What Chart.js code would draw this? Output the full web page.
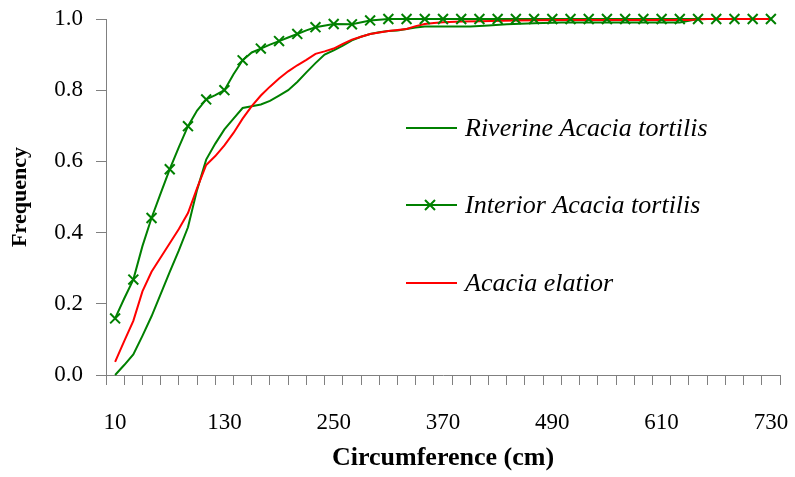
<!doctype html>
<html>

<head>
	<title>Cumulative circumference frequency</title>
	<script src="https://cdn.jsdelivr.net/npm/chart.js@4/dist/chart.umd.min.js"></script>
	<style>
	body {
		margin: 0;
		background: #fff;
	}
	</style>
</head>

<body>
	<div style="width:795px;height:477px">
		<canvas id="canvas"></canvas>
	</div>
	<script>
		// circumference (cm) and cumulative frequency
		const riverineX = [10, 20, 30, 40, 50, 60, 70, 80, 90, 100, 110, 120, 130, 140, 150, 160, 170, 180, 190, 200,
			210, 220, 230, 240, 250, 260, 270, 280, 290, 300, 310, 320, 330, 340, 350, 370, 400, 420, 440, 470, 500,
			550, 600, 630, 640, 650, 690, 730];
		const riverineY = [0.0, 0.028, 0.058, 0.11, 0.165, 0.227, 0.29, 0.35, 0.415, 0.52, 0.605, 0.65, 0.69, 0.72, 0.75,
			0.755, 0.76, 0.77, 0.785, 0.80, 0.823, 0.85, 0.876, 0.90, 0.912, 0.925, 0.94, 0.95, 0.958, 0.963, 0.966,
			0.968, 0.972, 0.976, 0.979, 0.979, 0.979, 0.982, 0.985, 0.988, 0.99, 0.99, 0.99, 0.99, 0.995, 1.0, 1.0, 1.0];

		const interiorX = [10, 20, 30, 40, 50, 60, 70, 80, 90, 100, 110, 120, 130, 140, 150, 160, 170, 180, 190, 200,
			210, 220, 230, 250, 270, 290, 310, 330, 350, 370, 390, 410, 430, 450, 470, 490, 510, 530, 550, 570, 590,
			610, 630, 650, 670, 690, 710, 730];
		const interiorY = [0.159, 0.215, 0.268, 0.362, 0.441, 0.51, 0.578, 0.64, 0.699, 0.743, 0.774, 0.786, 0.80, 0.845,
			0.884, 0.906, 0.917, 0.928, 0.938, 0.948, 0.958, 0.968, 0.977, 0.986, 0.985, 0.996, 1.0, 1.0, 1.0, 1.0,
			1.0, 1.0, 1.0, 1.0, 1.0, 1.0, 1.0, 1.0, 1.0, 1.0, 1.0, 1.0, 1.0, 1.0, 1.0, 1.0, 1.0, 1.0];

		const elatiorX = [10, 20, 30, 40, 50, 60, 70, 80, 90, 100, 110, 120, 130, 140, 150, 160, 170, 180, 190, 200,
			210, 220, 230, 240, 250, 260, 270, 280, 290, 300, 310, 320, 330, 340, 350, 360, 370, 390, 410, 450, 500,
			640, 660, 730];
		const elatiorY = [0.037, 0.095, 0.152, 0.235, 0.29, 0.33, 0.37, 0.41, 0.455, 0.525, 0.59, 0.615, 0.645, 0.68,
			0.72, 0.755, 0.785, 0.81, 0.833, 0.853, 0.87, 0.885, 0.902, 0.909, 0.917, 0.93, 0.942, 0.95, 0.958, 0.962,
			0.966, 0.969, 0.972, 0.98, 0.986, 0.989, 0.991, 0.993, 0.994, 0.996, 0.997, 0.997, 1.0, 1.0];

		const seriesNames = ['Riverine Acacia tortilis', 'Interior Acacia tortilis', 'Acacia elatior'];
		const xLabels = [10, 130, 250, 370, 490, 610, 730];
		const yLabels = [0.0, 0.2, 0.4, 0.6, 0.8, 1.0];

		const GREEN = '#008000';
		const RED = '#ff0000';
		const SERIF = '"Liberation Serif", "Times New Roman", serif';

		const toPoints = (xs, ys) => xs.map((x, i) => ({ x: x, y: ys[i] }));

		// legend drawn inside the plot, right side
		const insideLegend = {
			id: 'insideLegend',
			afterDraw(chart) {
				const ctx = chart.ctx;
				const rows = [
					{ name: seriesNames[0], color: GREEN, marker: false, y: 128 },
					{ name: seriesNames[1], color: GREEN, marker: true, y: 205 },
					{ name: seriesNames[2], color: RED, marker: false, y: 283 }
				];
				ctx.save();
				rows.forEach((r) => {
					ctx.strokeStyle = r.color;
					ctx.lineWidth = 2;
					ctx.beginPath();
					ctx.moveTo(406, r.y);
					ctx.lineTo(457, r.y);
					ctx.stroke();
					if (r.marker) {
						ctx.beginPath();
						ctx.moveTo(425, r.y - 5);
						ctx.lineTo(435, r.y + 5);
						ctx.moveTo(435, r.y - 5);
						ctx.lineTo(425, r.y + 5);
						ctx.stroke();
					}
					ctx.fillStyle = '#000';
					ctx.font = 'italic 26px ' + SERIF;
					ctx.textBaseline = 'middle';
					ctx.fillText(r.name, 465, r.y + 1);
				});
				ctx.restore();
			}
		};

		window.onload = function() {
			const ctx = document.getElementById('canvas').getContext('2d');
			window.myChart = new Chart(ctx, {
				type: 'line',
				data: {
					datasets: [{
						label: seriesNames[1] + ' markers',
						data: toPoints(interiorX, interiorY),
						showLine: false,
						pointStyle: 'crossRot',
						pointRadius: (c) => ((c.raw.x - 10) % 20 === 0 ? 7 : 0),
						pointBorderWidth: 2,
						pointBorderColor: GREEN,
						borderColor: GREEN,
						clip: false
					}, {
						label: seriesNames[2],
						data: toPoints(elatiorX, elatiorY),
						borderColor: RED,
						borderWidth: 2,
						pointRadius: 0,
						clip: false
					}, {
						label: seriesNames[0],
						data: toPoints(riverineX, riverineY),
						borderColor: GREEN,
						borderWidth: 2,
						pointRadius: 0,
						clip: false
					}, {
						label: seriesNames[1],
						data: toPoints(interiorX, interiorY),
						borderColor: GREEN,
						borderWidth: 2,
						pointRadius: 0,
						clip: false
					}]
				},
				options: {
					responsive: true,
					maintainAspectRatio: false,
					animation: false,
					events: [],
					layout: {
						padding: { top: 19, right: 15, left: 0, bottom: 0 }
					},
					plugins: {
						legend: { display: false },
						tooltip: { enabled: false }
					},
					scales: {
						x: {
							type: 'linear',
							min: 0,
							max: 740,
							afterFit: (s) => {
								s.height = 102;
								s.paddingLeft = 0;
								s.paddingRight = 0;
							},
							afterBuildTicks: (s) => {
								const t = [];
								for (let v = 0; v <= 740; v += 10) t.push({ value: v });
								s.ticks = t;
							},
							border: { display: true, color: '#808080', width: 1 },
							grid: {
								drawOnChartArea: false,
								drawTicks: true,
								tickLength: 10,
								tickColor: (c) => (c.tick && c.tick.value % 20 === 0 ? '#808080' : 'rgba(0,0,0,0)')
							},
							ticks: {
								autoSkip: false,
								maxRotation: 0,
								minRotation: 0,
								padding: 24,
								color: '#000',
								font: { family: SERIF, size: 23 },
								callback: (v) => (xLabels.includes(v) ? String(v) : '')
							},
							title: {
								display: true,
								text: 'Circumference (cm)',
								color: '#000',
								font: { family: SERIF, size: 26, weight: 'bold' },
								padding: { top: 3, bottom: 3 }
							}
						},
						y: {
							min: 0,
							max: 1,
							afterFit: (s) => {
								s.width = 106;
								s.paddingTop = 0;
								s.paddingBottom = 0;
							},
							afterBuildTicks: (s) => {
								s.ticks = yLabels.map((v) => ({ value: v }));
							},
							border: { display: true, color: '#808080', width: 1 },
							grid: {
								drawOnChartArea: false,
								drawTicks: true,
								tickLength: 10,
								tickColor: '#808080'
							},
							ticks: {
								padding: 13,
								color: '#000',
								font: { family: SERIF, size: 23 },
								callback: (v) => Number(v).toFixed(1)
							},
							title: {
								display: true,
								text: 'Frequency',
								color: '#000',
								font: { family: SERIF, size: 22, weight: 'bold' },
								padding: { top: 7, bottom: 4 }
							}
						}
					}
				},
				plugins: [insideLegend]
			});
		};
	</script>
</body>

</html>
